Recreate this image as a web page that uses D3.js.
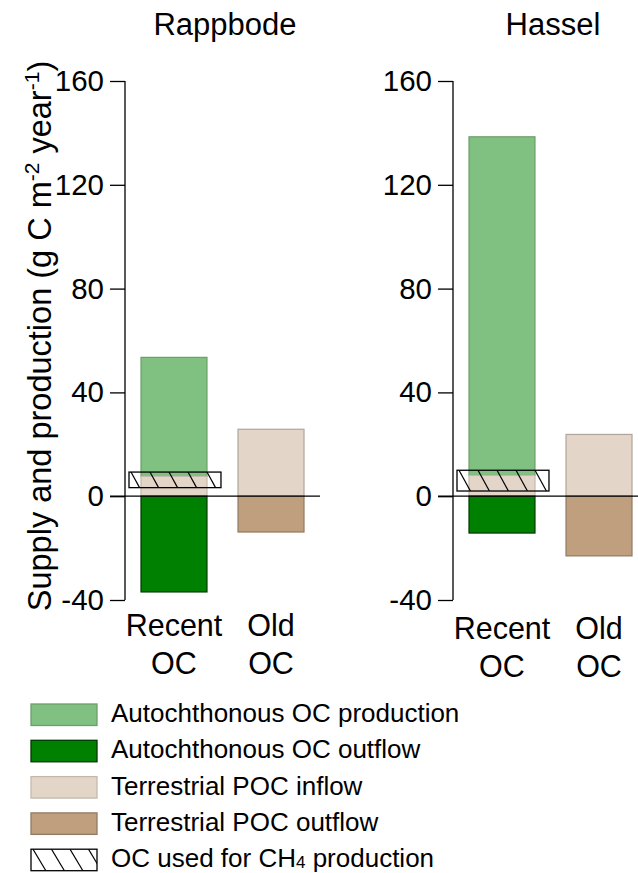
<!DOCTYPE html>
<html>
<head>
<meta charset="utf-8">
<script src="https://cdn.jsdelivr.net/npm/d3@7"></script>
<style>
  body { margin: 0; background: #fff; }
  text { font-family: "Liberation Sans", Arial, Helvetica, sans-serif; fill: #000; }
</style>
</head>
<body>
<svg id="chart" width="638" height="873"></svg>
<script>
// values (g C m-2 year-1)
var sites = ["Rappbode", "Hassel"];
var categories = ["Recent OC", "Old OC"];
var recentTerrestrial = [7.7, 8.0];      // terrestrial POC under the green bar
var autoProduction = [45.8, 130.5];      // stacked on top of it
var autoOutflow = [-36.9, -14.2];
var terrInflow = [25.8, 23.8];
var terrOutflow = [-13.8, -23.0];
var ch4Low = [3.3, 2.0];
var ch4High = [9.3, 10.0];
var yTicks = [-40, 0, 40, 80, 120, 160];

var legendItems = [
    { label: "Autochthonous OC production", fill: "#80c080", stroke: "#6a9f6a" },
    { label: "Autochthonous OC outflow", fill: "#008000", stroke: "#003800" },
    { label: "Terrestrial POC inflow", fill: "#e3d6c9", stroke: "#c4b8ad" },
    { label: "Terrestrial POC outflow", fill: "#bf9f7e", stroke: "#8f7a63" },
    { label: "OC used for CH4 production", fill: "none", stroke: "#000", hatch: true }
];

var colors = {
    prod: "#80c080", out: "#008000", inflow: "#e3d6c9", outflow: "#bf9f7e"
};

var svg = d3.select("#chart");
var axisX = [125, 453];
var y = d3.scaleLinear().domain([-40, 160]).range([600, 81]);

function hatchLines(g, x0, y0, w, h, step, slope) {
    var id = "clip" + Math.round(x0) + "_" + Math.round(y0);
    svg.select("defs").append("clipPath").attr("id", id)
        .append("rect").attr("x", x0).attr("y", y0).attr("width", w).attr("height", h);
    var hg = g.append("g").attr("clip-path", "url(#" + id + ")");
    d3.range(x0 + 2, x0 + w, step).forEach(function(xs) {
        hg.append("line")
            .attr("x1", xs).attr("y1", y0)
            .attr("x2", xs + slope * h).attr("y2", y0 + h)
            .attr("stroke", "#000").attr("stroke-width", 1.2);
    });
    g.append("rect").attr("x", x0).attr("y", y0).attr("width", w).attr("height", h)
        .attr("fill", "none").attr("stroke", "#000").attr("stroke-width", 1.3);
}

svg.append("defs");

sites.forEach(function(site, i) {
    var ax = axisX[i];
    var g = svg.append("g");
    var x = d3.scaleBand().domain(categories)
        .range([ax + 16, ax + 179]).paddingInner(0.32).paddingOuter(0);
    var bw = x.bandwidth();

    // title
    g.append("text").attr("x", ax + 100).attr("y", 35)
        .attr("text-anchor", "middle").attr("font-size", 31).text(site);

    // axis
    var axis = d3.axisLeft(y).tickValues(yTicks).tickSize(15).tickPadding(6)
        .tickFormat(function(d) { return String(d); });
    var ag = g.append("g").attr("transform", "translate(" + ax + ",0)").call(axis);
    ag.select(".domain").attr("d", "M0," + y(160) + "V" + y(-40)).attr("stroke-width", 1.3);
    ag.selectAll(".tick line").attr("stroke-width", 1.3);
    ag.selectAll(".tick text").attr("font-size", 29.5)
        .attr("font-family", "Liberation Sans, Arial, sans-serif");

    var bars = [
        { cat: "Recent OC", lo: recentTerrestrial[i], hi: recentTerrestrial[i] + autoProduction[i], fill: colors.prod, stroke: "#6a9f6a" },
        { cat: "Recent OC", lo: 0, hi: recentTerrestrial[i], fill: colors.inflow, stroke: "#c4b8ad" },
        { cat: "Recent OC", lo: autoOutflow[i], hi: 0, fill: colors.out, stroke: "#003800" },
        { cat: "Old OC", lo: 0, hi: terrInflow[i], fill: colors.inflow, stroke: "#b0a59b" },
        { cat: "Old OC", lo: terrOutflow[i], hi: 0, fill: colors.outflow, stroke: "#8f7a63" }
    ];
    g.selectAll("rect.bar").data(bars).enter().append("rect")
        .attr("class", "bar")
        .attr("x", function(d) { return x(d.cat); })
        .attr("width", bw)
        .attr("y", function(d) { return y(d.hi); })
        .attr("height", function(d) { return y(d.lo) - y(d.hi); })
        .attr("fill", function(d) { return d.fill; })
        .attr("stroke", function(d) { return d.stroke; })
        .attr("stroke-width", 1.2);

    // zero line
    g.append("line").attr("x1", ax - 15).attr("x2", i === 0 ? ax + 195 : 638)
        .attr("y1", y(0)).attr("y2", y(0)).attr("stroke", "#000").attr("stroke-width", 1.2);

    // CH4 box
    var hx = x("Recent OC") - 12;
    hatchLines(g, hx, y(ch4High[i]), bw + 26, y(ch4Low[i]) - y(ch4High[i]), 19, 0.55);

    // category labels
    categories.forEach(function(c) {
        var words = c.split(" ");
        var t = g.append("text").attr("text-anchor", "middle").attr("font-size", 30.5);
        words.forEach(function(w, k) {
            t.append("tspan").attr("x", x(c) + bw / 2).attr("y", 636 + i * 3 + k * 38).text(w);
        });
    });
});

// y label
var yl = svg.append("text")
    .attr("transform", "translate(51,336) rotate(-90)")
    .attr("text-anchor", "middle").attr("font-size", 32.5);
yl.append("tspan").text("Supply and production (g C m");
yl.append("tspan").attr("dy", -12).attr("font-size", 21).text("-2");
yl.append("tspan").attr("dy", 12).text(" year");
yl.append("tspan").attr("dy", -12).attr("font-size", 21).text("-1");
yl.append("tspan").attr("dy", 12).text(")");

// legend
var lg = svg.append("g");
legendItems.forEach(function(d, k) {
    var ly = 704 + k * 36.3;
    if (d.hatch) {
        hatchLines(lg, 31, ly, 66, 21.5, 18.5, 0.6);
    } else {
        lg.append("rect").attr("x", 31).attr("y", ly).attr("width", 66).attr("height", 21.5)
            .attr("fill", d.fill).attr("stroke", d.stroke).attr("stroke-width", 1.3);
    }
    var t = lg.append("text").attr("x", 111).attr("y", ly + 18).attr("font-size", 26);
    if (d.label.indexOf("CH4") >= 0) {
        t.append("tspan").text("OC used for CH");
        t.append("tspan").attr("font-size", 17).attr("dy", 1).text("4");
        t.append("tspan").attr("dy", -1).text(" production");
    } else {
        t.text(d.label);
    }
});
</script>
</body>
</html>
